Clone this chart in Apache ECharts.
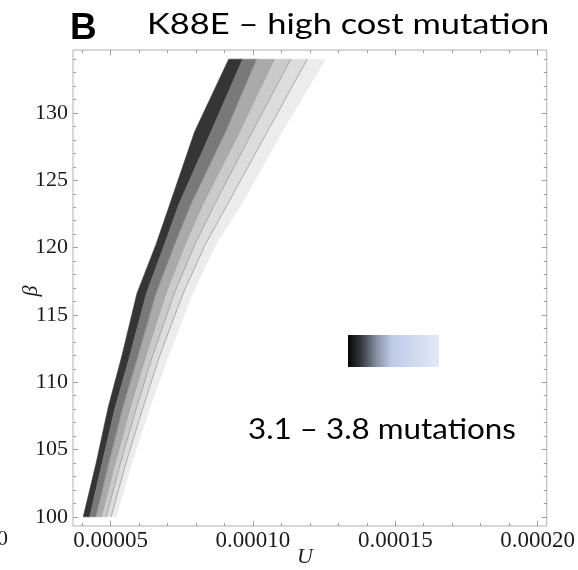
<!DOCTYPE html>
<html>
<head>
<meta charset="utf-8">
<script src="https://cdn.jsdelivr.net/npm/echarts@6/dist/echarts.min.js"></script>
<style>
  html, body { margin: 0; padding: 0; background: #ffffff; }
  #chart { width: 578px; height: 570px; }
</style>
</head>
<body>
<div id="chart"></div>
<script>
// Contour band edges: U value of each edge at each beta level
const betaLevels = [100, 104, 108.1, 112, 116.6, 120.2, 123.2, 128.6, 134];
const edge0 = [4.040e-5, 4.494e-5, 4.913e-5, 5.402e-5, 5.926e-5, 6.589e-5, 7.078e-5, 7.951e-5, 9.149e-5];
const edge1 = [4.267e-5, 4.703e-5, 5.157e-5, 5.681e-5, 6.257e-5, 6.886e-5, 7.393e-5, 8.528e-5, 9.638e-5];
const edge2 = [4.494e-5, 4.948e-5, 5.437e-5, 5.978e-5, 6.607e-5, 7.253e-5, 7.829e-5, 9.052e-5, 10.141e-5];
const edge3 = [4.668e-5, 5.157e-5, 5.681e-5, 6.240e-5, 6.939e-5, 7.602e-5, 8.231e-5, 9.523e-5, 10.746e-5];
const edge4 = [4.843e-5, 5.349e-5, 5.908e-5, 6.484e-5, 7.235e-5, 7.951e-5, 8.650e-5, 9.977e-5, 11.329e-5];
const edge5 = [5.017e-5, 5.541e-5, 6.135e-5, 6.729e-5, 7.550e-5, 8.318e-5, 9.104e-5, 10.501e-5, 11.909e-5];
const edge6 = [5.192e-5, 5.751e-5, 6.380e-5, 7.043e-5, 7.882e-5, 8.685e-5, 9.593e-5, 11.025e-5, 12.552e-5];

const bandColors = ['#353535', '#797979', '#aaaaaa', '#cacaca', '#dcdcdc', '#ececec'];

// Tick positions
const xMajorTicks = [0.00005, 0.0001, 0.00015, 0.0002];
const xMinorTicks = [0.00004, 0.00006, 0.00007, 0.00008, 0.00009, 0.00011, 0.00012, 0.00013, 0.00014,
                     0.00016, 0.00017, 0.00018, 0.00019];
const yMajorTicks = [100, 105, 110, 115, 120, 125, 130];
const yMinorTicks = [101, 102, 103, 104, 106, 107, 108, 109, 111, 112, 113, 114, 116, 117, 118, 119,
                     121, 122, 123, 124, 126, 127, 128, 129, 131, 132, 133, 134];

const xRange = [0.0000368, 0.0002032];
const yRange = [99.32, 134.68];

const edges = [edge0, edge1, edge2, edge3, edge4, edge5, edge6];

const tickColor = '#9c9c9c';
const serif = '"Liberation Serif", "DejaVu Serif", serif';
const sans = 'Lato, "Open Sans", sans-serif';

function makeX(pos, ticks, len, labels) {
  return {
    type: 'value', min: xRange[0], max: xRange[1], position: pos,
    axisLine: { show: false },
    splitLine: { show: false },
    axisTick: { show: true, inside: true, length: len, customValues: ticks,
                lineStyle: { color: tickColor, width: 1 } },
    axisLabel: labels ? {
      show: true, customValues: ticks, margin: 3,
      formatter: v => v.toFixed(5),
      fontFamily: serif, fontSize: 23, color: '#1a1a1a'
    } : { show: false }
  };
}
function makeY(pos, ticks, len, labels) {
  return {
    type: 'value', min: yRange[0], max: yRange[1], position: pos,
    axisLine: { show: false },
    splitLine: { show: false },
    axisTick: { show: true, inside: true, length: len, customValues: ticks,
                lineStyle: { color: tickColor, width: 1 } },
    axisLabel: labels ? {
      show: true, customValues: ticks, margin: 5,
      formatter: v => String(v),
      fontFamily: serif, fontSize: 22, color: '#1a1a1a'
    } : { show: false }
  };
}

const series = [];
for (let i = 0; i < 6; i++) {
  const lo = edges[i], hi = edges[i + 1], color = bandColors[i];
  series.push({
    type: 'custom',
    xAxisIndex: 0, yAxisIndex: 0,
    clip: true,
    silent: true,
    data: [[lo[0], betaLevels[0]]],
    renderItem: function (params, api) {
      const pts = [];
      for (let k = 0; k < betaLevels.length; k++) pts.push(api.coord([lo[k], betaLevels[k]]));
      for (let k = betaLevels.length - 1; k >= 0; k--) pts.push(api.coord([hi[k], betaLevels[k]]));
      return { type: 'polygon', shape: { points: pts },
               style: { fill: color, stroke: color, lineWidth: 0.6 } };
    }
  });
}
// thin contour lines between the lighter bands
[edge2, edge3, edge4, edge5].forEach(function (e) {
  series.push({
    type: 'line', xAxisIndex: 0, yAxisIndex: 0, silent: true,
    showSymbol: false, symbol: 'none',
    data: e.map((u, k) => [u, betaLevels[k]]),
    lineStyle: { color: '#989898', width: 0.8 },
    z: 3
  });
});

const chart = echarts.init(document.getElementById('chart'), null, { renderer: 'canvas' });
chart.setOption({
  animation: false,
  backgroundColor: '#ffffff',
  grid: { left: 73, right: 29, top: 50, bottom: 44, show: true,
          borderColor: '#b2b2b2', borderWidth: 1, backgroundColor: 'transparent' },
  xAxis: [
    makeX('bottom', xMajorTicks, 5, true),
    makeX('bottom', xMinorTicks, 3, false),
    makeX('top', xMajorTicks, 5, false),
    makeX('top', xMinorTicks, 3, false)
  ],
  yAxis: [
    makeY('left', yMajorTicks, 5, true),
    makeY('left', yMinorTicks, 3, false),
    makeY('right', yMajorTicks, 5, false),
    makeY('right', yMinorTicks, 3, false)
  ],
  series: series,
  graphic: [
    { type: 'text', x: 70, y: 29,
      style: { text: 'B', font: 'bold 37px "Liberation Sans", Arial, sans-serif', fill: '#000',
               align: 'left', verticalAlign: 'middle' } },
    { type: 'text', x: 147, y: 25, scaleX: 1.23,
      style: { text: 'K88E \u2013 high cost mutation', font: '28px ' + sans, fill: '#000',
               align: 'left', verticalAlign: 'middle' } },
    { type: 'rect', x: 348, y: 335,
      shape: { width: 91, height: 32 },
      style: {
        fill: new echarts.graphic.LinearGradient(0, 0, 1, 0, [
          { offset: 0, color: '#050508' },
          { offset: 0.15, color: '#3a3a42' },
          { offset: 0.32, color: '#8a92a4' },
          { offset: 0.48, color: '#bccbe8' },
          { offset: 1, color: '#e3e9f7' }
        ])
      } },
    { type: 'text', x: 248, y: 430, scaleX: 1.12,
      style: { text: '3.1 \u2013 3.8 mutations', font: '28px ' + sans, fill: '#000',
               align: 'left', verticalAlign: 'middle' } },
    { type: 'text', x: 31, y: 291, rotation: Math.PI / 2,
      style: { text: '\u03b2', font: 'italic 22px ' + serif, fill: '#1a1a1a',
               align: 'center', verticalAlign: 'middle' } },
    { type: 'text', x: 305, y: 557,
      style: { text: 'U', font: 'italic 22px ' + serif, fill: '#1a1a1a',
               align: 'center', verticalAlign: 'middle' } },
    { type: 'text', x: -3, y: 539,
      style: { text: '0', font: '22px ' + serif, fill: '#1a1a1a',
               align: 'left', verticalAlign: 'middle' } }
  ]
});
</script>
</body>
</html>
